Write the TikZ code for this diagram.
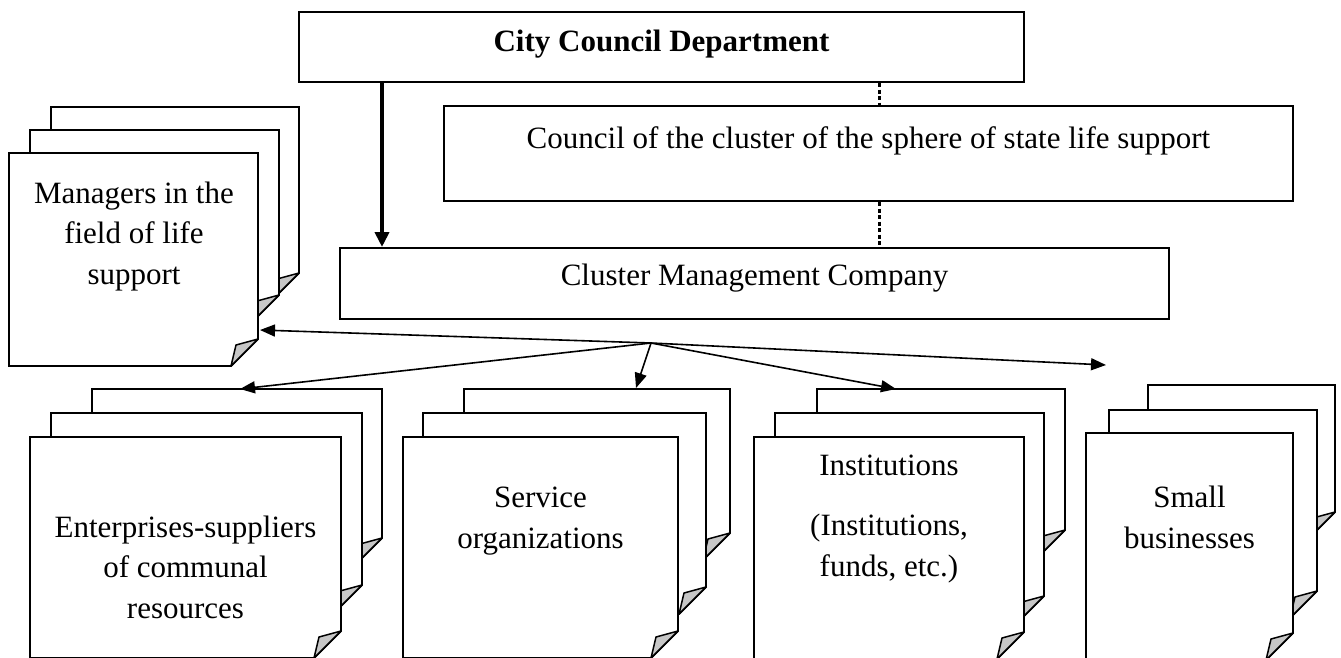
\documentclass[tikz,border=0pt]{standalone}
\usepackage{fontspec}
\setmainfont{Liberation Serif}
\usetikzlibrary{arrows.meta}
\newcommand{\docpage}[4]{%
\draw[pageline] (#1,#2) -- (#3,#2) -- (#3,#4-27) -- (#3-27,#4) -- (#1,#4) -- cycle;
\draw[foldline] (#3-27,#4) -- (#3-22,#4-21) -- (#3,#4-27) -- cycle;
}
\tikzset{
boxnodev1/.style={rectangle, draw=black!100,fill=white,line width=2pt, inner sep=0pt, font=\fontsize{31}{40.5}\selectfont},
pagetextv1/.style={align=center, inner sep=0pt, font=\fontsize{31}{40.5}\selectfont},
pageline/.style={draw=black!100,fill=white,line width=1.8pt},
foldline/.style={draw=black!100,fill=black!22,line width=1.5pt,line join=round},
thinarrow/.style={line width=1.6pt,-{Triangle[length=15pt,width=12pt]}},
thickarrow/.style={line width=4pt,-{Triangle[length=15pt,width=14pt]}},
dottedline/.style={line width=3pt,dash pattern=on 4pt off 2.5pt},
}
\begin{document}
\begin{tikzpicture}[x=1pt,y=-1pt]
        \useasboundingbox (0,0) rectangle (1341,657);
        \clip (0,0) rectangle (1341,657);
        \node[boxnodev1, minimum width=725pt, minimum height=70pt, text height=21pt, text depth=13pt] at (661.5,47) (dept) {\textbf{City Council Department}};
        \node[boxnodev1, minimum width=849pt, minimum height=95pt, text height=21pt, text depth=32pt] at (868.5,153.5) (council) {Council of the cluster of the sphere of state life support};
        \node[boxnodev1, minimum width=829pt, minimum height=71pt, text height=21pt, text depth=18pt] at (754.5,283.5) (company) {Cluster Management Company};
        \docpage{51}{107}{299}{300}
        \docpage{30}{130}{279}{322}
        \docpage{9}{153}{258}{366}
        \node[pagetextv1] at (134,236.5) (mgr) {Managers in the\\field of life\\support};
        \docpage{92}{389}{382}{565}
        \docpage{51}{413}{362}{612}
        \docpage{30}{437}{341}{658}
        \node[pagetextv1] at (185.5,567) (ent) {Enterprises-suppliers\\of communal\\resources};
        \docpage{464}{389}{730}{560}
        \docpage{423}{413}{706}{614}
        \docpage{403}{437}{678}{658}
        \node[pagetextv1] at (540.5,521) (serv) {Service\\organizations};
        \docpage{817}{389}{1065}{557}
        \docpage{775}{413}{1044}{623}
        \docpage{754}{437}{1024}{659}
        \node[pagetextv1] at (889,519) (inst) {Institutions\\[20pt](Institutions,\\funds, etc.)};
        \docpage{1148}{385}{1335}{539}
        \docpage{1109}{410}{1317}{618}
        \docpage{1086}{433}{1293}{660}
        \node[pagetextv1] at (1189.5,517.5) (small) {Small\\businesses};
        \coordinate (thk) at (382,0);
        \coordinate (dot) at (879,0);
        \draw[thickarrow] (dept.south -| thk) -- (company.north -| thk);
        \draw[dottedline] (dept.south -| dot) -- (council.north -| dot);
        \draw[dottedline] (council.south -| dot) -- (company.north -| dot);
        \coordinate (hub) at (651,343);
        \coordinate (mgrin) at (260,330);
        \coordinate (entin) at (240,389);
        \coordinate (servin) at (636,388);
        \coordinate (instin) at (896,389);
        \coordinate (smallin) at (1106,365);
        \draw[thinarrow] (hub) -- (mgrin);
        \draw[thinarrow] (hub) -- (entin);
        \draw[thinarrow] (hub) -- (servin);
        \draw[thinarrow] (hub) -- (instin);
        \draw[thinarrow] (hub) -- (smallin);
\end{tikzpicture}
\end{document}
